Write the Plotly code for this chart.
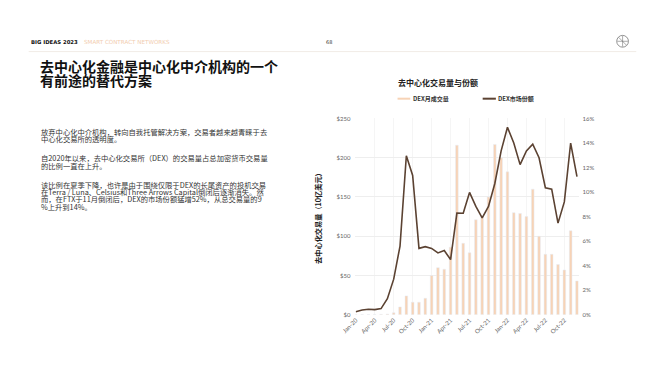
import plotly.graph_objects as go

months = ["Jan-20","Feb-20","Mar-20","Apr-20","May-20","Jun-20","Jul-20","Aug-20","Sep-20","Oct-20","Nov-20","Dec-20",
          "Jan-21","Feb-21","Mar-21","Apr-21","May-21","Jun-21","Jul-21","Aug-21","Sep-21","Oct-21","Nov-21","Dec-21",
          "Jan-22","Feb-22","Mar-22","Apr-22","May-22","Jun-22","Jul-22","Aug-22","Sep-22","Oct-22","Nov-22","Dec-22"]
dex_volume = [0.2, 0.3, 0.3, 0.4, 0.5, 0.8, 2.5, 10, 24, 16, 16, 21,
              50, 60, 58, 86, 216, 91, 79, 121, 125, 150, 217, 200,
              182, 130, 129, 125, 160, 100, 77, 77, 64, 57, 107, 43]
dex_share = [0.24, 0.38, 0.45, 0.42, 0.5, 1.3, 2.9, 5.6, 12.96, 11.36, 5.41, 5.55,
             5.41, 5.04, 5.23, 4.5, 8.29, 8.27, 9.97, 8.83, 7.9, 8.83, 10.7, 13.36,
             15.28, 14.0, 12.24, 13.36, 13.9, 12.8, 10.35, 10.24, 7.47, 9.2, 14.0, 11.26]
tick_months = months[::3]
left_ticks = [0, 50, 100, 150, 200, 250]
left_labels = ["$0", "$50", "$100", "$150", "$200", "$250"]
right_ticks = [0, 2, 4, 6, 8, 10, 12, 14, 16]
right_labels = [f"{v}%" for v in right_ticks]

W, H = 649, 371
BAR_C = "#f7d3b6"
LINE_C = "#5b4232"
CJK = "Noto Sans CJK SC"

def px(x):
    return x / W

def py(y):
    return 1 - y / H

fig = go.Figure()
fig.add_trace(go.Bar(x=months, y=dex_volume, marker_color=BAR_C, width=0.42,
                     name="DEX月成交量", showlegend=False, yaxis="y"))
fig.add_trace(go.Scatter(x=months, y=dex_share, mode="lines",
                         line=dict(color=LINE_C, width=1.6),
                         name="DEX市场份额", showlegend=False, yaxis="y2"))

tickfont = dict(family="Lato, Open Sans, sans-serif", size=6, color="#666666")
fig.update_layout(
    width=W, height=H, margin=dict(l=0, r=0, t=0, b=0),
    paper_bgcolor="white", plot_bgcolor="white",
    xaxis=dict(domain=[px(349), px(577)], range=[-0.05, 35.25], type="category",
               tickvals=tick_months, ticktext=tick_months, tickangle=-45,
               tickfont=tickfont, showgrid=True, gridcolor="#f5f5f5", gridwidth=1,
               showline=False, zeroline=False, ticks=""),
    yaxis=dict(domain=[py(316.7), py(116.7)], range=[0, 250], tickvals=left_ticks,
               ticktext=left_labels, tickfont=tickfont, showgrid=True,
               gridcolor="#eeeeee", gridwidth=1, zeroline=False, showline=False, ticks="",
               ticklabelstandoff=4),
    yaxis2=dict(overlaying="y", side="right", range=[0, 16], tickvals=right_ticks,
                ticktext=right_labels, tickfont=tickfont, showgrid=False,
                zeroline=False, showline=False, ticks="", ticklabelstandoff=3),
    bargap=0.5,
)

ann = []
def text(x, y, s, size, color="#222222", bold=False, family=CJK, xanchor="left", **kw):
    if bold:
        s = f"<b>{s}</b>"
    ann.append(dict(x=px(x), y=py(y), xref="paper", yref="paper", text=s, showarrow=False,
                    xanchor=xanchor, yanchor="middle", borderpad=0,
                    font=dict(family=family, size=size, color=color), **kw))

# header
text(16, 38.5, "BIG IDEAS 2023", 5.3, color="#111111", bold=True, family="DejaVu Sans, sans-serif")
text(71, 38.5, "SMART CONTRACT NETWORKS", 5.6, color="#f2cdb0", family="DejaVu Sans, sans-serif")
text(322, 38.5, "68", 5, color="#333333", family="DejaVu Sans, sans-serif", xanchor="center")

# title
text(26, 63, "去中心化金融是中心化中介机构的一个", 14, color="#111111", bold=True)
text(26, 77, "有前途的替代方案", 14, color="#111111", bold=True)

# body
body = [
    (130.0, "放弃中心化中介机构，转向自我托管解决方案，交易者越来越青睐于去"),
    (137.6, "中心化交易所的透明度。"),
    (157.3, "自2020年以来，去中心化交易所（DEX）的交易量占总加密货币交易量"),
    (164.9, "的比例一直在上升。"),
    (184.0, "该比例在夏季下降，也许是由于围绕仅限于DEX的长尾资产的投机交易"),
    (191.6, "在Terra / Luna、Celsius和Three Arrows Capital倒闭后逐渐消失。然"),
    (199.2, "而，在FTX于11月倒闭后，DEX的市场份额猛增52%，从总交易量的9"),
    (206.8, "%上升到14%。"),
]
for y, s in body:
    text(26.5, y, s, 7.3, color="#333333")

# chart title + legend
text(391, 80, "去中心化交易量与份额", 8, color="#222222", bold=True)
text(406.5, 96.5, "DEX月成交量", 6, color="#333333", bold=True)
text(493.5, 96.5, "DEX市场份额", 6, color="#333333", bold=True)

# y-axis title
ann.append(dict(x=px(310), y=py(216.7), xref="paper", yref="paper",
                text="<b>去中心化交易量（10亿美元）</b>", showarrow=False, textangle=-90,
                xanchor="center", yanchor="middle", font=dict(family=CJK, size=7.2, color="#222222")))

fig.update_layout(annotations=ann)

shapes = [
    dict(type="line", xref="paper", yref="paper", x0=px(15), x1=px(636), y0=py(48.5), y1=py(48.5),
         line=dict(color="#f1ece6", width=1)),
    dict(type="line", xref="paper", yref="paper", x0=px(392), x1=px(405), y0=py(96.5), y1=py(96.5),
         line=dict(color=BAR_C, width=2)),
    dict(type="line", xref="paper", yref="paper", x0=px(479), x1=px(492.5), y0=py(96.5), y1=py(96.5),
         line=dict(color=LINE_C, width=2)),
    # logo
    dict(type="circle", xref="paper", yref="paper", x0=px(616), x1=px(628), y0=py(32), y1=py(44),
         line=dict(color="#777777", width=0.8)),
    dict(type="line", xref="paper", yref="paper", x0=px(616.5), x1=px(627.5), y0=py(38), y1=py(38),
         line=dict(color="#777777", width=0.6)),
    dict(type="line", xref="paper", yref="paper", x0=px(622), x1=px(622), y0=py(32.5), y1=py(43.5),
         line=dict(color="#777777", width=0.6)),
    dict(type="line", xref="paper", yref="paper", x0=px(618), x1=px(626), y0=py(34), y1=py(42),
         line=dict(color="#777777", width=0.6)),
]
fig.update_layout(shapes=shapes)

fig.write_html("out.html")
